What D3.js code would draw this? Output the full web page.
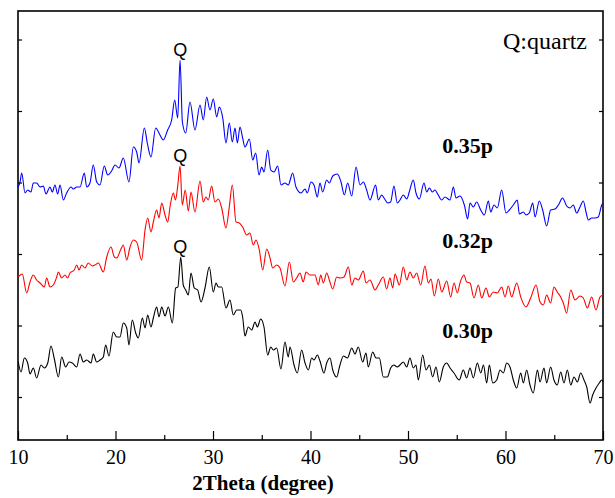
<!DOCTYPE html>
<html>
<head>
<meta charset="utf-8">
<script src="https://cdn.jsdelivr.net/npm/d3@7"></script>
<style>
  body { margin: 0; background: #fff; }
  .line { fill: none; stroke-width: 1.1; }
  .axis text { font-family: 'Liberation Serif', 'Times New Roman', serif; font-size: 20px; fill: #000; }
  .axis line { stroke: #000; stroke-width: 1.2; }
</style>
</head>
<body>
<svg id="chart" width="615" height="498"></svg>
<script>
// XRD patterns, [2theta (deg), intensity (a.u.)]
const xrd035 = [
  [10.0,253],[10.21,258],[10.38,267],[10.72,247],[10.99,250],[11.33,248],[11.57,257],[11.91,257],
  [12.26,253],[12.6,254],[12.87,246],[13.28,253],[13.52,248],[13.79,255],[14.07,246],[14.31,255],
  [14.65,240],[14.99,247],[15.44,253],[15.67,251],[16.02,253],[16.36,253],[16.8,267],[17.05,253],
  [17.38,257],[17.72,275],[18.07,258],[18.41,255],[18.85,274],[19.2,265],[19.6,269],[19.95,275],
  [20.36,272],[20.8,282],[21.38,258],[21.83,293],[22.17,288],[22.41,277],[22.96,312],[23.26,297],
  [23.64,283],[24.12,312],[24.56,305],[24.9,300],[25.35,310],[25.76,320],[26.07,340],[26.38,322],
  [26.62,380],[26.86,318],[27.2,307],[27.64,338],[28.15,310],[28.67,335],[29.0,320],[29.35,343],
  [29.69,330],[30.03,341],[30.38,323],[30.65,333],[31.0,322],[31.33,297],[31.67,317],[31.98,298],
  [32.26,312],[32.5,297],[32.77,313],[33.04,302],[33.28,293],[33.73,301],[34.07,280],[34.38,287],
  [34.72,265],[34.99,273],[35.23,268],[35.61,290],[35.92,270],[36.26,268],[36.63,274],[36.97,255],
  [37.38,257],[37.72,255],[38.17,267],[38.51,253],[39.03,247],[39.44,251],[39.67,247],[40.05,258],
  [40.36,255],[40.7,243],[40.97,257],[41.25,248],[41.66,260],[41.93,257],[42.28,264],[42.75,266],
  [43.13,258],[43.47,245],[43.81,257],[44.23,244],[44.67,273],[45.08,255],[45.42,258],[45.76,250],
  [46.1,240],[46.68,255],[46.95,240],[47.3,245],[47.54,242],[47.92,237],[48.22,238],[48.56,254],
  [48.9,237],[49.18,240],[49.52,245],[49.87,241],[50.13,248],[50.54,260],[50.82,247],[51.16,241],
  [51.64,257],[51.92,248],[52.19,252],[52.5,248],[52.77,250],[53.05,246],[53.46,240],[53.79,243],
  [54.31,240],[54.65,253],[54.92,242],[55.33,244],[55.78,235],[56.12,221],[56.36,237],[56.7,233],
  [57.04,238],[57.46,230],[57.83,225],[58.24,239],[58.48,228],[58.82,235],[59.16,232],[59.61,250],
  [60.05,227],[60.39,230],[60.8,235],[61.21,240],[61.42,226],[61.83,228],[62.1,225],[62.44,227],
  [62.79,237],[63.03,223],[63.47,239],[63.81,230],[64.22,214],[64.63,230],[65.08,231],[65.42,235],
  [65.86,242],[66.27,234],[66.62,232],[66.95,235],[67.3,227],[67.64,233],[67.98,239],[68.26,228],
  [68.5,220],[68.84,222],[69.18,222],[69.52,223],[69.87,235],[70.0,237]
];

const xrd032 = [
  [10.03,163],[10.44,166],[10.89,147],[11.23,158],[11.57,165],[11.91,160],[12.26,157],[12.7,153],
  [12.94,162],[13.28,153],[13.62,155],[13.97,163],[14.14,168],[14.48,162],[14.82,165],[15.09,162],
  [15.33,167],[15.77,170],[16.02,175],[16.26,170],[16.53,175],[16.87,172],[17.21,177],[17.62,174],
  [17.9,175],[18.24,177],[18.75,168],[19.1,183],[19.54,193],[19.88,183],[20.12,182],[20.56,191],
  [20.8,195],[21.15,180],[21.49,193],[21.83,200],[22.17,198],[22.68,180],[23.03,210],[23.3,222],
  [23.64,208],[23.88,218],[24.22,230],[24.46,222],[24.74,237],[25.08,225],[25.35,218],[25.62,235],
  [25.93,247],[26.15,240],[26.38,254],[26.62,274],[26.85,235],[27.15,250],[27.47,229],[27.74,248],
  [28.15,228],[28.67,259],[29.0,238],[29.28,243],[29.52,240],[29.86,254],[30.2,238],[30.55,241],
  [30.89,232],[31.33,212],[31.67,233],[31.98,255],[32.36,218],[32.7,217],[33.04,213],[33.46,205],
  [33.79,207],[34.13,195],[34.41,200],[34.75,190],[35.1,170],[35.51,191],[35.85,182],[36.12,172],
  [36.53,175],[36.87,172],[37.38,154],[37.83,178],[38.24,158],[38.58,162],[38.92,167],[39.26,158],
  [39.54,168],[39.95,165],[40.46,165],[40.8,155],[41.05,165],[41.32,157],[41.66,167],[41.93,160],
  [42.28,151],[42.69,163],[43.03,162],[43.44,163],[43.88,173],[44.23,155],[44.56,162],[44.9,160],
  [45.42,169],[45.69,157],[46.1,160],[46.62,150],[46.95,155],[47.47,163],[47.81,151],[48.15,162],
  [48.43,152],[48.67,166],[49.11,155],[49.52,173],[49.87,160],[50.2,168],[50.54,162],[50.89,167],
  [51.3,155],[51.74,174],[52.08,157],[52.36,161],[52.7,144],[53.11,161],[53.46,148],[53.97,159],
  [54.38,143],[54.72,157],[55.06,147],[55.33,157],[55.74,165],[56.02,158],[56.36,157],[56.77,142],
  [57.21,155],[57.56,142],[58.0,152],[58.34,143],[58.75,148],[59.16,147],[59.61,153],[59.95,143],
  [60.29,154],[60.63,143],[61.15,157],[61.56,143],[62.1,133],[62.58,142],[63.13,155],[63.54,138],
  [63.88,135],[64.22,145],[64.63,137],[64.97,153],[65.31,148],[65.66,143],[65.93,137],[66.27,127],
  [66.69,150],[67.13,140],[67.64,144],[67.98,142],[68.4,132],[68.84,143],[69.28,130],[69.69,143],
  [70.0,145]
];

const xrd030 = [
  [10.03,78],[10.31,68],[10.65,82],[10.99,77],[11.23,66],[11.57,72],[11.91,62],[12.36,75],
  [12.7,72],[13.05,77],[13.38,94],[13.73,81],[14.14,63],[14.48,83],[14.89,73],[15.23,78],
  [15.57,77],[16.02,73],[16.36,86],[16.7,78],[17.05,80],[17.49,77],[17.72,86],[18.07,78],
  [18.41,80],[18.75,83],[18.99,95],[19.33,84],[19.77,108],[20.12,103],[20.46,103],[20.8,117],
  [21.15,112],[21.38,95],[21.72,120],[22.07,107],[22.34,102],[22.75,122],[23.03,112],[23.3,125],
  [23.64,113],[23.88,122],[24.22,133],[24.46,123],[24.74,133],[25.08,124],[25.42,133],[25.83,117],
  [26.17,152],[26.4,153],[26.69,183],[26.95,155],[27.2,150],[27.47,145],[27.74,167],[28.08,152],
  [28.43,150],[28.77,138],[29.18,152],[29.62,173],[30.03,148],[30.31,157],[30.55,153],[30.89,153],
  [31.33,132],[31.74,140],[32.08,125],[32.43,130],[32.84,130],[33.04,123],[33.28,104],[33.62,113],
  [33.97,110],[34.31,118],[34.55,113],[34.89,121],[35.23,113],[35.61,85],[35.92,93],[36.19,90],
  [36.53,92],[36.97,71],[37.38,98],[37.72,83],[37.9,93],[38.31,75],[38.65,67],[39.09,90],
  [39.44,77],[39.78,70],[40.12,82],[40.36,80],[40.7,85],[40.97,79],[41.38,67],[41.66,77],
  [42.0,82],[42.28,70],[42.69,63],[42.97,73],[43.38,84],[43.79,82],[44.23,92],[44.56,86],
  [44.9,93],[45.35,78],[45.69,87],[45.93,73],[46.38,88],[46.72,82],[47.06,82],[47.47,63],
  [47.88,63],[48.22,72],[48.56,75],[48.9,73],[49.18,75],[49.52,78],[49.87,73],[50.2,82],
  [50.54,72],[50.82,75],[51.06,60],[51.51,85],[51.85,70],[52.19,75],[52.53,63],[52.87,73],
  [53.21,58],[53.62,73],[53.97,77],[54.31,72],[54.72,67],[55.26,60],[55.67,70],[56.02,62],
  [56.36,72],[56.7,62],[57.11,77],[57.46,67],[57.74,75],[58.07,57],[58.34,75],[58.69,57],
  [59.1,60],[59.44,70],[59.78,67],[60.12,77],[60.46,73],[60.8,60],[61.15,52],[61.56,67],
  [61.83,57],[62.17,70],[62.51,55],[62.85,47],[63.27,70],[63.54,58],[63.95,72],[64.22,57],
  [64.63,73],[64.97,60],[65.31,55],[65.66,68],[66.0,57],[66.34,70],[66.69,55],[67.03,63],
  [67.37,58],[67.71,67],[68.05,60],[68.33,53],[68.67,37],[68.94,45],[69.28,52],[69.62,57],
  [69.87,60],[70.0,58]
];

const sampleNames = ['0.35p', '0.32p', '0.30p'];
const xTicks = [10, 20, 30, 40, 50, 60, 70];
const xMinorTicks = [15, 25, 35, 45, 55, 65];
const quartzPeak = 26.65;

const colors = ['#0000ff', '#ff0000', '#000000'];

const svg = d3.select('#chart');
const plot = {left: 18, right: 603, top: 11, bottom: 440};

let x = d3.scaleLinear().domain([10, 70]).range([plot.left, plot.right]);
let y = d3.scaleLinear().domain([0, 429]).range([plot.bottom, plot.top]);
let yTicks = d3.range(43, 429, 71.5);

// frame
svg.append('rect')
  .attr('x', plot.left).attr('y', plot.top)
  .attr('width', plot.right - plot.left).attr('height', plot.bottom - plot.top)
  .attr('fill', 'none')
  .attr('stroke', '#000')
  .attr('stroke-width', 1.6);

// x axis, ticks pointing inward
svg.append('g')
  .attr('class', 'axis')
  .attr('transform', 'translate(0,' + plot.bottom + ')')
  .call(d3.axisBottom(x).tickValues(xTicks).tickSize(-9).tickPadding(10).tickFormat(d3.format('d')))
  .call(g => g.select('.domain').remove());

svg.append('g')
  .attr('class', 'axis')
  .attr('transform', 'translate(0,' + plot.bottom + ')')
  .call(d3.axisBottom(x).tickValues(xMinorTicks).tickSize(-5).tickFormat(''))
  .call(g => g.select('.domain').remove());

// y axes, no labels
svg.append('g')
  .attr('class', 'axis')
  .attr('transform', 'translate(' + plot.left + ',0)')
  .call(d3.axisLeft(y).tickValues(yTicks).tickSize(-4).tickFormat(''))
  .call(g => g.select('.domain').remove());

svg.append('g')
  .attr('class', 'axis')
  .attr('transform', 'translate(' + plot.right + ',0)')
  .call(d3.axisRight(y).tickValues(yTicks).tickSize(-4).tickFormat(''))
  .call(g => g.select('.domain').remove());

// patterns
let line = d3.line()
  .x(function(d) { return x(d[0]); })
  .y(function(d) { return y(d[1]); })
  .curve(d3.curveMonotoneX);

const patterns = [xrd035, xrd032, xrd030];
patterns.forEach((data, i) => {
  svg.append('path')
    .datum(data)
    .attr('class', 'line')
    .attr('stroke', colors[i])
    .attr('d', line);

  // quartz marker over the peak
  let peak = d3.max(data.filter(d => Math.abs(d[0] - quartzPeak) < 0.5), d => d[1]);
  svg.append('text')
    .attr('x', x(quartzPeak))
    .attr('y', y(peak) - 4)
    .attr('text-anchor', 'middle')
    .style('font-family', "'Liberation Sans', Arial, sans-serif")
    .style('font-size', '18px')
    .text('Q');
});

// sample names
const nameAnchors = [[53.5, 287], [53.5, 192], [53.5, 102]];
sampleNames.forEach((name, i) => {
  svg.append('text')
    .attr('x', x(nameAnchors[i][0]))
    .attr('y', y(nameAnchors[i][1]))
    .style('font-family', "'Liberation Serif', 'Times New Roman', serif")
    .style('font-weight', 'bold')
    .style('font-size', '22px')
    .text(name);
});

svg.append('text')
  .attr('x', 503)
  .attr('y', 49)
  .style('font-family', "'Liberation Serif', 'Times New Roman', serif")
  .style('font-size', '24px')
  .text('Q:quartz');

svg.append('text')
  .attr('x', 263)
  .attr('y', 490)
  .attr('text-anchor', 'middle')
  .style('font-family', "'Liberation Serif', 'Times New Roman', serif")
  .style('font-weight', 'bold')
  .style('font-size', '21px')
  .text('2Theta (degree)');
</script>
</body>
</html>
